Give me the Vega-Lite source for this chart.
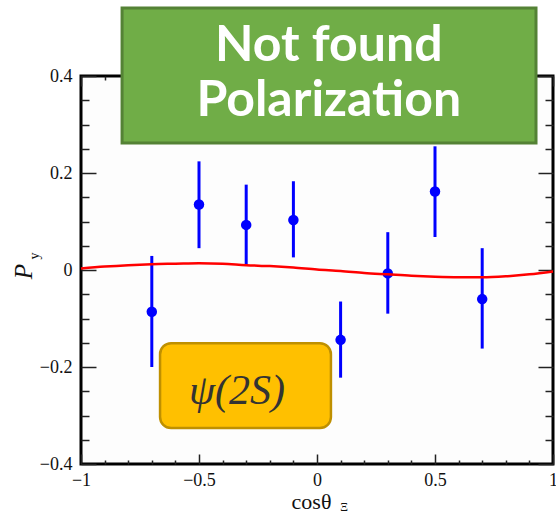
{
  "$schema": "https://vega.github.io/schema/vega-lite/v6.json",
  "width": 472,
  "height": 388,
  "autosize": {"type": "none"},
  "padding": {"left": 81, "top": 76, "right": 3, "bottom": 50},
  "background": "white",
  "config": {
    "view": {"stroke": "black", "strokeWidth": 3, "fill": "#fdfdfd"},
    "axis": {
      "domain": false,
      "grid": false,
      "labelFont": "Liberation Serif",
      "labelFontSize": 18,
      "labelColor": "#111",
      "tickColor": "#222",
      "tickWidth": 1.5,
      "titleFont": "Liberation Serif",
      "titleFontWeight": "normal",
      "titleColor": "#111"
    }
  },
  "datasets": {
    "pts": [
      {"c": -0.7, "p": -0.086, "lo": -0.200, "hi": 0.029},
      {"c": -0.5, "p": 0.135, "lo": 0.045, "hi": 0.224},
      {"c": -0.3, "p": 0.093, "lo": 0.010, "hi": 0.176},
      {"c": -0.1, "p": 0.103, "lo": 0.026, "hi": 0.183},
      {"c": 0.1, "p": -0.144, "lo": -0.222, "hi": -0.065},
      {"c": 0.3, "p": -0.007, "lo": -0.090, "hi": 0.078},
      {"c": 0.5, "p": 0.162, "lo": 0.068, "hi": 0.255},
      {"c": 0.7, "p": -0.060, "lo": -0.162, "hi": 0.045}
    ],
    "fit": [
      {"c": -1.0, "p": 0.003}, {"c": -0.9, "p": 0.007}, {"c": -0.8, "p": 0.010},
      {"c": -0.7, "p": 0.012}, {"c": -0.6, "p": 0.013}, {"c": -0.5, "p": 0.014},
      {"c": -0.4, "p": 0.013}, {"c": -0.3, "p": 0.010}, {"c": -0.2, "p": 0.008},
      {"c": -0.1, "p": 0.005}, {"c": 0.0, "p": 0.001}, {"c": 0.1, "p": -0.002},
      {"c": 0.2, "p": -0.006}, {"c": 0.3, "p": -0.009}, {"c": 0.4, "p": -0.012},
      {"c": 0.5, "p": -0.014}, {"c": 0.6, "p": -0.015}, {"c": 0.7, "p": -0.015},
      {"c": 0.8, "p": -0.013}, {"c": 0.9, "p": -0.009}, {"c": 1.0, "p": -0.003}
    ]
  },
  "layer": [
    {
      "data": {"name": "pts"},
      "mark": {"type": "rule", "color": "#0000ff", "strokeWidth": 3},
      "encoding": {
        "x": {
          "field": "c", "type": "quantitative",
          "scale": {"domain": [-1, 1], "nice": false, "zero": false},
          "axis": {
            "orient": "bottom",
            "values": [-1, -0.9, -0.8, -0.7, -0.6, -0.5, -0.4, -0.3, -0.2, -0.1, 0, 0.1, 0.2, 0.3, 0.4, 0.5, 0.6, 0.7, 0.8, 0.9, 1],
            "tickSize": {"condition": {"test": "abs(datum.value*2 - round(datum.value*2)) < 0.001", "value": -10}, "value": -4},
            "labelExpr": "abs(datum.value*2 - round(datum.value*2)) < 0.001 ? format(datum.value, '~g') : ''",
            "labelPadding": 17,
            "labelFlush": false,
            "labelOverlap": false,
            "title": "cosθ",
            "titleFontSize": 22,
            "titleBaseline": "alphabetic",
            "titleX": 230,
            "titleY": 44
          }
        },
        "y": {
          "field": "lo", "type": "quantitative",
          "scale": {"domain": [-0.4, 0.4], "nice": false, "zero": false},
          "axis": {
            "orient": "left",
            "values": [-0.4, -0.35, -0.3, -0.25, -0.2, -0.15, -0.1, -0.05, 0, 0.05, 0.1, 0.15, 0.2, 0.25, 0.3, 0.35, 0.4],
            "tickSize": {"condition": {"test": "abs(datum.value*5 - round(datum.value*5)) < 0.001", "value": -15}, "value": -8},
            "labelExpr": "abs(datum.value*5 - round(datum.value*5)) < 0.001 ? format(datum.value, '~g') : ''",
            "labelPadding": 24,
            "labelFlush": false,
            "labelOverlap": false,
            "title": "P",
            "titleFontSize": 25,
            "titleFontStyle": "italic",
            "titleBaseline": "alphabetic",
            "titleX": -50,
            "titleY": 195
          }
        },
        "y2": {"field": "hi"}
      }
    },
    {
      "data": {"name": "pts"},
      "mark": {"type": "point", "filled": true, "color": "#0000ff", "size": 110, "opacity": 1},
      "encoding": {
        "x": {
          "field": "c", "type": "quantitative",
          "axis": {
            "orient": "top",
            "values": [-1, -0.9, -0.8, -0.7, -0.6, -0.5, -0.4, -0.3, -0.2, -0.1, 0, 0.1, 0.2, 0.3, 0.4, 0.5, 0.6, 0.7, 0.8, 0.9, 1],
            "tickSize": {"condition": {"test": "abs(datum.value*2 - round(datum.value*2)) < 0.001", "value": -10}, "value": -4},
            "labels": false,
            "title": null
          }
        },
        "y": {
          "field": "p", "type": "quantitative",
          "axis": {
            "orient": "right",
            "values": [-0.4, -0.35, -0.3, -0.25, -0.2, -0.15, -0.1, -0.05, 0, 0.05, 0.1, 0.15, 0.2, 0.25, 0.3, 0.35, 0.4],
            "tickSize": {"condition": {"test": "abs(datum.value*5 - round(datum.value*5)) < 0.001", "value": -15}, "value": -8},
            "labels": false,
            "title": null
          }
        }
      }
    },
    {
      "data": {"name": "fit"},
      "mark": {"type": "line", "color": "#ff0000", "strokeWidth": 2.5, "interpolate": "monotone"},
      "encoding": {
        "x": {"field": "c", "type": "quantitative", "axis": null},
        "y": {"field": "p", "type": "quantitative", "axis": null}
      }
    },
    {
      "data": {"values": [{"c": 0.115, "p": -0.489, "t": "Ξ"}]},
      "mark": {"type": "text", "font": "Liberation Serif", "fontSize": 12, "color": "#111", "baseline": "middle", "align": "center"},
      "encoding": {
        "x": {"field": "c", "type": "quantitative", "axis": null},
        "y": {"field": "p", "type": "quantitative", "axis": null},
        "text": {"field": "t"}
      }
    },
    {
      "data": {"values": [{"c": -1.196, "p": 0.029, "t": "y"}]},
      "mark": {"type": "text", "font": "Liberation Serif", "fontSize": 14, "color": "#111", "angle": 270, "baseline": "middle", "align": "center"},
      "encoding": {
        "x": {"field": "c", "type": "quantitative", "axis": null},
        "y": {"field": "p", "type": "quantitative", "axis": null},
        "text": {"field": "t"}
      }
    },
    {
      "data": {"values": [{"x1": -0.826, "x2": 0.928, "y1": 0.540, "y2": 0.262}]},
      "mark": {"type": "rect", "fill": "#70ad47", "stroke": "#548235", "strokeWidth": 3},
      "encoding": {
        "x": {"field": "x1", "type": "quantitative", "axis": null},
        "x2": {"field": "x2"},
        "y": {"field": "y1", "type": "quantitative", "axis": null},
        "y2": {"field": "y2"}
      }
    },
    {
      "data": {"values": [{"c": 0.05, "p": 0.462, "t": "Not found"}, {"c": 0.05, "p": 0.348, "t": "Polarization"}]},
      "mark": {"type": "text", "font": "Lato", "fontWeight": "bold", "fontSize": 50, "color": "white", "baseline": "middle", "align": "center"},
      "encoding": {
        "x": {"field": "c", "type": "quantitative", "axis": null},
        "y": {"field": "p", "type": "quantitative", "axis": null},
        "text": {"field": "t"}
      }
    },
    {
      "data": {"values": [{"x1": -0.665, "x2": 0.059, "y1": -0.151, "y2": -0.326}]},
      "mark": {"type": "rect", "fill": "#ffc000", "stroke": "#bf9000", "strokeWidth": 2.5, "cornerRadius": 11},
      "encoding": {
        "x": {"field": "x1", "type": "quantitative", "axis": null},
        "x2": {"field": "x2"},
        "y": {"field": "y1", "type": "quantitative", "axis": null},
        "y2": {"field": "y2"}
      }
    },
    {
      "data": {"values": [{"c": -0.339, "p": -0.25, "t": "ψ(2S)"}]},
      "mark": {"type": "text", "font": "Liberation Serif", "fontStyle": "italic", "fontSize": 42, "color": "#333333", "baseline": "middle", "align": "center"},
      "encoding": {
        "x": {"field": "c", "type": "quantitative", "axis": null},
        "y": {"field": "p", "type": "quantitative", "axis": null},
        "text": {"field": "t"}
      }
    }
  ],
  "resolve": {"axis": {"x": "independent", "y": "independent"}}
}
